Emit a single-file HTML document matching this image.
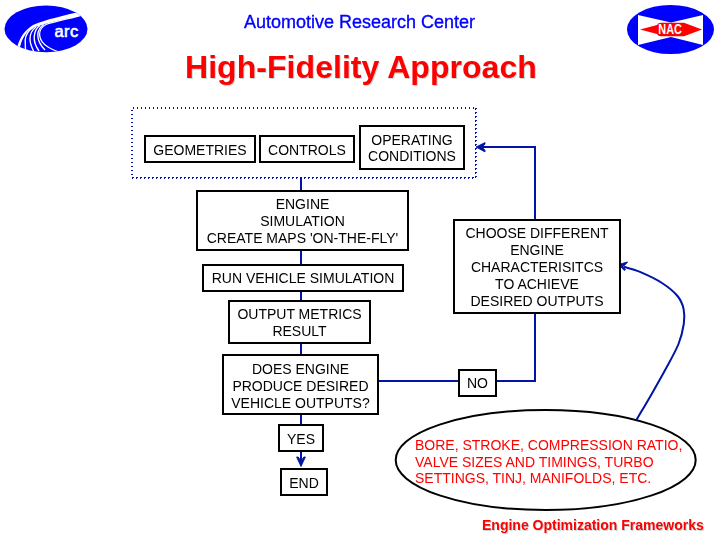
<!DOCTYPE html>
<html><head><meta charset="utf-8">
<style>
html,body{margin:0;padding:0;background:#fff;}
body{width:720px;height:540px;position:relative;overflow:hidden;font-family:"Liberation Sans",sans-serif;}
.b,.t{will-change:transform;}
.b{position:absolute;box-sizing:border-box;border:2px solid #000;background:#fff;font-size:14px;line-height:17px;text-align:center;color:#000;white-space:nowrap;padding-top:5px;}
.p4{padding-top:4px;}
.t{position:absolute;white-space:nowrap;}
svg{position:absolute;left:0;top:0;}
</style></head>
<body>
<svg width="720" height="540" viewBox="0 0 720 540">
  <!-- arc logo -->
  <defs><clipPath id="e1"><ellipse cx="46" cy="28.9" rx="41.5" ry="23.4"/></clipPath></defs>
  <g clip-path="url(#e1)">
    <rect x="0" y="0" width="100" height="60" fill="#0000ff"/>
    <path d="M82,11 C65,15.5 45,19.5 33,25 C25,30 20,37 17.5,46 L16,56 L19,56 C19.5,46 22,38 28,31 C36,25 56,21.5 86,14 Z" fill="#fff"/>
    <g stroke="#fff" stroke-width="1.4" fill="none">
      <path d="M33,27.5 C28,31 25.5,35 25.2,40 L25.6,56"/>
      <path d="M36,27 C32,30 30,34 30,39 C30,44 31.5,47 34,52"/>
      <path d="M40,25.5 C36,28 34.5,32 34.2,37 C34,42 35.5,46 39,51"/>
      <path d="M44,24.5 C39.5,27 38,31 37.8,35 C37.8,40 40,45 45,50"/>
    </g>
    <path d="M86,14 C70,18.5 54,21.5 46,24.5 C41,27 39.5,31 39.6,35 C40,40 43,44 48,47 C52,49.5 56,51 62,53" stroke="#fff" stroke-width="1.3" fill="none"/>
  </g>
  <text x="54.6" y="36.9" font-family="Liberation Sans" font-size="16.5" fill="#fff" stroke="#fff" stroke-width="0.6" textLength="23.6" lengthAdjust="spacing">arc</text>
  <!-- NAC logo -->
  <ellipse cx="670.5" cy="29.5" rx="43.5" ry="24.5" fill="#0000ff"/>
  <path d="M638,15 L671,22.5 L703,15 L703,45 L671,37 L638,45 Z" fill="#fff"/>
  <path d="M640,29.5 L657,25 Q658,22.8 661,22.8 L684,22.8 L702,29.5 L684,36.2 L661,36.2 Q658,36.2 657,34 Z" fill="#ff0000"/>
  <text x="658.3" y="34.2" font-family="Liberation Sans" font-weight="bold" font-size="14" fill="#fff" textLength="23.5" lengthAdjust="spacingAndGlyphs">NAC</text>
  <!-- connectors -->
  <g stroke="#0015a5" stroke-width="2" fill="none">
    <line x1="301" y1="177" x2="301" y2="191"/>
    <line x1="301" y1="249" x2="301" y2="265"/>
    <line x1="301" y1="290" x2="301" y2="301"/>
    <line x1="301" y1="342" x2="301" y2="355"/>
    <line x1="301" y1="413" x2="301" y2="425"/>
    <line x1="301" y1="450" x2="301" y2="465"/>
    <line x1="377" y1="381" x2="459" y2="381"/>
    <line x1="495" y1="381" x2="535" y2="381"/>
    <line x1="535" y1="382" x2="535" y2="312"/>
    <line x1="535" y1="220" x2="535" y2="146"/>
    <line x1="536" y1="147" x2="479" y2="147"/>
    <path d="M636.7,419.5 C639.2,415.2 646.7,402.6 651.7,393.9 C656.7,385.2 662.0,375.8 666.5,367.5 C671.0,359.2 675.6,351.2 678.5,344 C681.4,336.8 682.9,329.8 683.8,324 C684.6,318.2 684.6,313.7 683.6,309 C682.6,304.3 681.1,300.3 677.5,296 C673.9,291.7 668.2,287.0 662,283 C655.8,279.0 646.3,274.6 640,271.9 C633.7,269.2 626.7,267.6 624,266.8"/>
  </g>
  <g fill="#0015a5" stroke="#0015a5" stroke-width="0.9" stroke-linejoin="round">
    <path d="M476,147 L485,142.6 L485,144.2 L482,147 L485,150.3 L485,151.9 Z"/>
    <path d="M301,466.5 L296.6,457 L298.2,457 L301,461 L303.8,457 L305.4,457 Z"/>
    <path d="M618.5,264.5 L627.5,262 L626.5,263.5 L623,266.5 L625.5,269.5 L624.3,270.5 Z"/>
  </g>
  <!-- dotted container -->
  <g stroke="#0015a5" stroke-width="2" stroke-dasharray="1 3" fill="none">
    <path d="M131,108 H477" stroke-dashoffset="2"/>
    <path d="M132,107 V177" stroke-dashoffset="1"/>
    <path d="M132,177.5 H475" stroke-width="1" stroke-dasharray="2 2"/>
    <path d="M132,178.5 H475" stroke-width="1"/>
    <path d="M475.5,108 V178" stroke-width="1" stroke-dasharray="2 2"/>
    <path d="M476.5,108 V178" stroke-width="1"/>
  </g>
  <!-- ellipse -->
  <ellipse cx="545.7" cy="460" rx="150" ry="50" fill="#fff" stroke="#000" stroke-width="2"/>
</svg>

<div class="t" style="left:244px;top:12px;font-size:18px;line-height:20px;color:#0000ff;-webkit-text-stroke:0.35px #0000ff;">Automotive Research Center</div>
<div class="t" style="left:185px;top:49px;font-size:32px;font-weight:bold;color:#ff0000;letter-spacing:0.05px;text-shadow:1px 1px 0 #c8d8d8;">High-Fidelity Approach</div>

<div class="b" style="left:144px;top:135px;width:112px;height:28px;">GEOMETRIES</div>
<div class="b" style="left:259px;top:135px;width:96px;height:28px;">CONTROLS</div>
<div class="b" style="left:359px;top:125px;width:106px;height:45px;line-height:16px;">OPERATING<br>CONDITIONS</div>
<div class="b p4" style="left:196px;top:190px;width:213px;height:61px;">ENGINE<br>SIMULATION<br>CREATE MAPS 'ON-THE-FLY'</div>
<div class="b p4" style="left:202px;top:264px;width:202px;height:28px;">RUN VEHICLE SIMULATION</div>
<div class="b p4" style="left:228px;top:300px;width:143px;height:44px;">OUTPUT METRICS<br>RESULT</div>
<div class="b" style="left:222px;top:354px;width:157px;height:61px;">DOES ENGINE<br>PRODUCE DESIRED<br>VEHICLE OUTPUTS?</div>
<div class="b" style="left:278px;top:424px;width:46px;height:28px;">YES</div>
<div class="b" style="left:280px;top:468px;width:48px;height:28px;">END</div>
<div class="b p4" style="left:453px;top:219px;width:168px;height:95px;">CHOOSE DIFFERENT<br>ENGINE<br>CHARACTERISITCS<br>TO ACHIEVE<br>DESIRED OUTPUTS</div>
<div class="b p4" style="left:458px;top:369px;width:39px;height:28px;">NO</div>

<div class="t" style="left:415px;top:437px;font-size:14px;line-height:16.5px;color:#ff0000;">BORE, STROKE, COMPRESSION RATIO,<br>VALVE SIZES AND TIMINGS, TURBO<br>SETTINGS, TINJ, MANIFOLDS, ETC.</div>

<div class="t" style="left:482px;top:517px;font-size:14px;font-weight:bold;color:#ff0000;text-shadow:1px 1px 0 #c8d8d8;">Engine Optimization Frameworks</div>
</body></html>
